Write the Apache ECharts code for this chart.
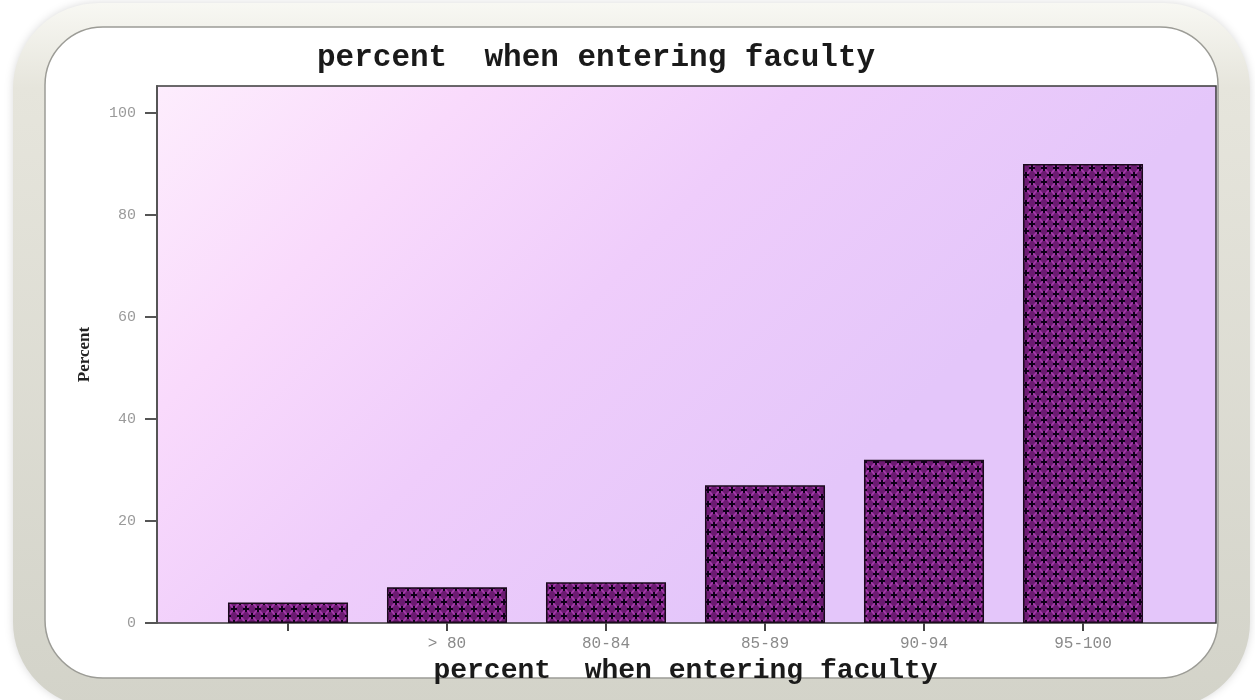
<!DOCTYPE html>
<html>
<head>
<meta charset="utf-8">
<script src="https://cdn.jsdelivr.net/npm/echarts@6/dist/echarts.min.js"></script>
<style>
  html, body { margin: 0; padding: 0; background: #ffffff; }
  #chart { width: 1255px; height: 700px; }
</style>
</head>
<body>
<div id="chart"></div>
<script>
// ---- data ----
const titleText = 'percent  when entering faculty';
const xAxisTitle = 'percent  when entering faculty';
const yAxisTitle = 'Percent';
const categories = ['', '> 80', '80-84', '85-89', '90-94', '95-100'];
const percentValues = [4, 7, 8, 27, 32, 90];
const yMin = 0;
const yMax = 105.3;
const yInterval = 20;

// ---- pattern tile for bars ----
function makePattern() {
  const w = 12, h = 14;
  const c = document.createElement('canvas');
  c.width = w; c.height = h;
  const g = c.getContext('2d');
  g.fillStyle = '#6c1a72';
  g.fillRect(0, 0, w, h);
  g.strokeStyle = '#a23aa8';
  g.lineWidth = 2;
  g.beginPath();
  g.moveTo(0, 0); g.lineTo(w, h);
  g.moveTo(w, 0); g.lineTo(0, h);
  g.stroke();
  g.fillStyle = '#10001a';
  const cross = (x, y) => {
    g.fillRect(x - 3, y - 1, 6, 2);
    g.fillRect(x - 1, y - 3, 2, 6);
  };
  cross(0, 0); cross(w, 0); cross(0, h); cross(w, h); cross(w / 2, h / 2);
  return c;
}

const chart = echarts.init(document.getElementById('chart'), null, { renderer: 'canvas' });

const mono = "'Liberation Mono', 'DejaVu Sans Mono', monospace";

const option = {
  backgroundColor: '#ffffff',
  animation: false,
  title: {
    text: titleText,
    left: 312,
    top: 38,
    textStyle: { fontFamily: mono, fontWeight: 'bold', fontSize: 31, color: '#1a1a1a' }
  },
  graphic: [
    {
      type: 'rect', z: -10, silent: true,
      shape: { x: 29, y: 19, width: 1205, height: 673, r: 70 },
      style: {
        fill: '#ffffff',
        stroke: new echarts.graphic.LinearGradient(0, 0, 0, 1, [
          { offset: 0, color: '#f8f8f3' },
          { offset: 0.12, color: '#e6e5dc' },
          { offset: 1, color: '#d3d3c9' }
        ]),
        lineWidth: 32,
        shadowBlur: 8, shadowColor: 'rgba(0,0,0,0.15)'
      }
    },
    {
      type: 'rect', z: -9, silent: true,
      shape: { x: 45, y: 27, width: 1173, height: 651, r: 58 },
      style: { fill: '#ffffff', stroke: '#9c9c96', lineWidth: 1.5 }
    }
  ],
  grid: [
    {
      left: 157, right: 39, top: 86, bottom: 77,
      show: true,
      backgroundColor: new echarts.graphic.LinearGradient(157, 86, 700, 623, [
        { offset: 0, color: '#fdedfd' },
        { offset: 0.3, color: '#f9dafc' },
        { offset: 0.6, color: '#efcdfb' },
        { offset: 1, color: '#e4c6fa' }
      ], true),
      borderColor: '#3a3a3a',
      borderWidth: 1.5
    },
    {
      left: 208.5, right: 92.5, top: 86, bottom: 77
    }
  ],
  xAxis: [
    { type: 'value', gridIndex: 0, show: false, min: 0, max: 1 },
    {
      type: 'category', gridIndex: 1, data: categories,
      name: xAxisTitle, nameLocation: 'middle', nameGap: 30,
      nameTextStyle: { fontFamily: mono, fontWeight: 'bold', fontSize: 28, color: '#1a1a1a' },
      axisLine: { show: false },
      axisTick: { show: true, alignWithLabel: true, length: 8, lineStyle: { color: '#444', width: 2 } },
      axisLabel: { fontFamily: mono, fontSize: 16, color: '#8a8a8a', margin: 13, interval: 0 },
      splitLine: { show: false }
    }
  ],
  yAxis: [
    {
      type: 'value', gridIndex: 0, min: yMin, max: yMax, interval: yInterval,
      name: yAxisTitle, nameLocation: 'middle', nameGap: 64, nameRotate: 90,
      nameTextStyle: { fontFamily: "'Liberation Serif', serif", fontWeight: 'bold', fontSize: 17, color: '#222' },
      axisLine: { show: true, lineStyle: { color: '#555', width: 2 } },
      axisTick: { show: true, length: 12, lineStyle: { color: '#555', width: 2 } },
      axisLabel: { fontFamily: mono, fontSize: 15, color: '#9a9a9a', margin: 21, showMaxLabel: false },
      splitLine: { show: false }
    },
    {
      type: 'value', gridIndex: 1, min: yMin, max: yMax, interval: yInterval, show: false
    }
  ],
  series: [
    {
      type: 'bar',
      xAxisIndex: 1, yAxisIndex: 1,
      data: percentValues,
      barWidth: '75.5%',
      itemStyle: {
        color: { image: makePattern(), repeat: 'repeat' },
        borderColor: '#1a0a1c',
        borderWidth: 1.5
      }
    }
  ]
};

chart.setOption(option);
</script>
</body>
</html>
